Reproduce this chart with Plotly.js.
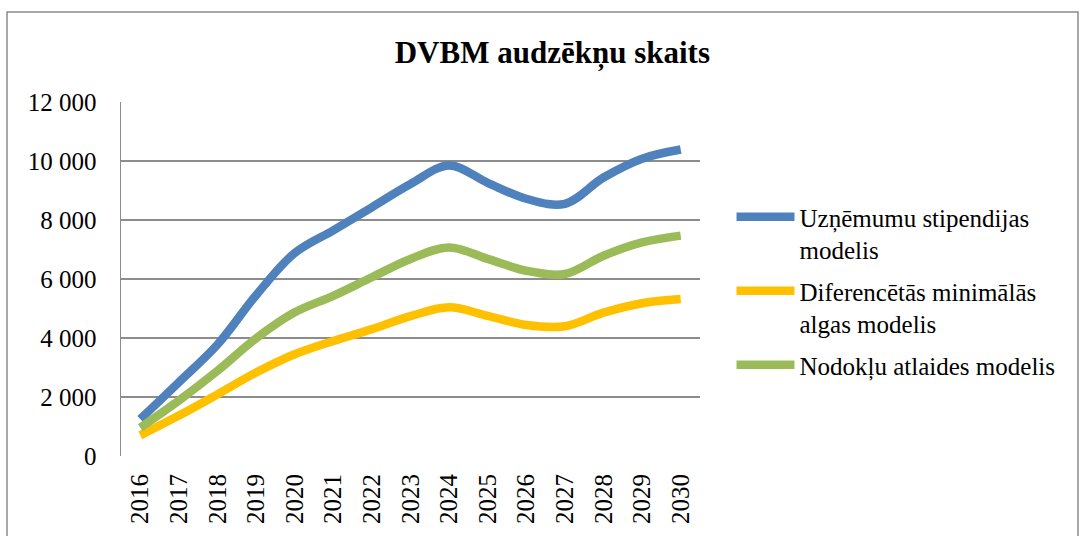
<!DOCTYPE html>
<html>
<head>
<meta charset="utf-8">
<script src="https://cdn.plot.ly/plotly-3.0.1.min.js"></script>
<style>html,body{margin:0;padding:0;background:#fff;}#chart{width:1083px;height:536px;}</style>
</head>
<body>
<div id="chart"></div>
<script>
const years = ["2016","2017","2018","2019","2020","2021","2022","2023","2024","2025","2026","2027","2028","2029","2030"];
const seriesNames = ["Uzņēmumu stipendijas<br>modelis", "Diferencētās minimālās<br>algas modelis", "Nodokļu atlaides modelis"];
const uznemumuStipendijas = [1250, 2500, 3780, 5450, 6880, 7650, 8430, 9220, 9850, 9260, 8720, 8550, 9440, 10080, 10390];
const diferencetasAlgas   = [ 700, 1370, 2090, 2830, 3450, 3900, 4300, 4740, 5040, 4750, 4440, 4400, 4860, 5180, 5320];
const nodoklaAtlaides     = [ 960, 1880, 2890, 3990, 4870, 5430, 6060, 6680, 7070, 6680, 6280, 6170, 6790, 7240, 7470];
const colors = ["#4F81BD", "#FFC000", "#9BBB59"];
const yTicks = [0, 2000, 4000, 6000, 8000, 10000, 12000];

const font = "Liberation Serif, Times New Roman, serif";
const allSeries = [uznemumuStipendijas, diferencetasAlgas, nodoklaAtlaides];
const traces = allSeries.map((vals, i) => ({
  x: years, y: vals, name: seriesNames[i], type: "scatter", mode: "lines",
  legendgroup: "g" + i,
  line: {color: colors[i], width: 8.5, shape: "spline", smoothing: 1}
}));

const layout = {
  width: 1083, height: 536,
  margin: {l: 121, r: 383, t: 102, b: 80},
  paper_bgcolor: "#fff", plot_bgcolor: "#fff",
  separators: ", ",
  font: {family: font, size: 25, color: "#000"},
  title: {text: "<b>DVBM audzēkņu skaits</b>", font: {family: font, size: 31, color: "#000"},
          x: 0.51, xanchor: "center", y: 0.903, yanchor: "middle"},
  xaxis: {type: "category", range: [-0.5, 14.5], tickangle: -90, showgrid: false,
          showline: false, zeroline: false, ticks: "", tickfont: {family: font, size: 25},
          ticklabelstandoff: 12, fixedrange: true},
  yaxis: {range: [0, 12000], tickvals: yTicks, tickformat: ",d", showgrid: true,
          gridcolor: "#8c8c8c", gridwidth: 1.5, showline: true, linecolor: "#8c8c8c", linewidth: 1.5,
          zeroline: false, ticks: "", ticklabelstandoff: 18, tickfont: {family: font, size: 25}, fixedrange: true},
  legend: {x: 1.0544, xanchor: "left", y: 0.74, yanchor: "top", itemwidth: 58, valign: "top",
           traceorder: "grouped", tracegroupgap: 6,
           font: {family: font, size: 25}, bgcolor: "rgba(0,0,0,0)"},
  shapes: [{type: "rect", xref: "paper", yref: "paper",
            x0: (7 - 121) / 579, x1: (1078 - 121) / 579, y0: -0.4, y1: (456 - 12) / 354,
            line: {color: "#8c8c8c", width: 1.5}, fillcolor: "rgba(0,0,0,0)", layer: "below"}]
};

Plotly.newPlot("chart", traces, layout, {displayModeBar: false, staticPlot: true});
</script>
</body>
</html>
